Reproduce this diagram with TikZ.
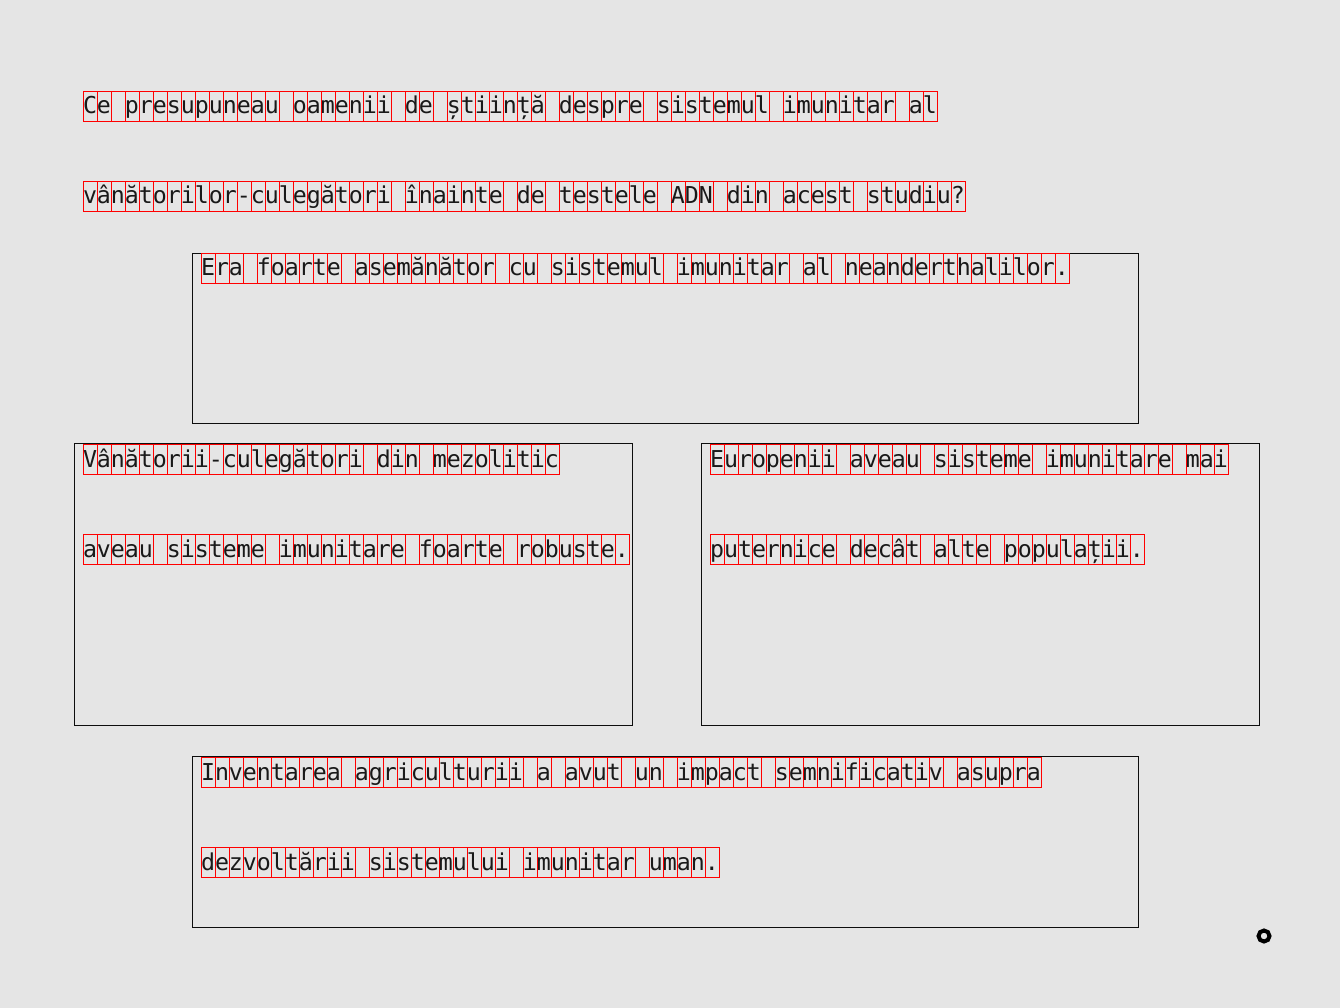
\documentclass[tikz,border=0pt]{standalone}
\usepackage{fontspec}
\setmonofont{DejaVu Sans Mono}
\begin{document}
\begin{tikzpicture}[
		x=1pt, y=-1pt,
		frame/.style={draw=black!95, line width=1pt},
		cell/.style={draw=red, line width=1pt},
		row/.style={anchor=base west, inner sep=0pt, outer sep=0pt, text=black!90, font=\ttfamily\fontsize{23.25pt}{30pt}\selectfont}
	]
		\fill[black!10] (0,0) rectangle (1340,1008);
		\useasboundingbox (0,0) rectangle (1340,1008);
		
		% answer frames
		\draw[frame] (192.5,253.5) rectangle (1138.5,423.5);
		\draw[frame] (74.5,443.5) rectangle (632.5,725.5);
		\draw[frame] (701.5,443.5) rectangle (1259.5,725.5);
		\draw[frame] (192.5,756.5) rectangle (1138.5,927.5);
		
		% text rows, one cell per character
		\foreach \name/\cx/\cy/\n/\txt in {
			q-1/83/91/61/Ce presupuneau oamenii de știință despre sistemul imunitar al,
			q-2/83/181/63/vânătorilor-culegători înainte de testele ADN din acest studiu?,
			a-1/201/253/62/Era foarte asemănător cu sistemul imunitar al neanderthalilor.,
			b-1/83/444/34/Vânătorii-culegători din mezolitic,
			b-2/83/534/39/aveau sisteme imunitare foarte robuste.,
			c-1/710/444/37/Europenii aveau sisteme imunitare mai,
			c-2/710/534/31/puternice decât alte populații.,
			d-1/201/757/60/Inventarea agriculturii a avut un impact semnificativ asupra,
			d-2/201/847/37/dezvoltării sistemului imunitar uman.}{
			\foreach \i in {1,...,\n}
				\draw[cell] ({\cx+(\i-1)*14+0.5},\cy+0.5) rectangle ++(14,30);
			\node[row] (\name) at (\cx,\cy+23) {\txt};
		}
		
		% marker
		\draw[line width=4pt] (1264,936) circle[radius=5.5pt];
	\end{tikzpicture}
\end{document}
